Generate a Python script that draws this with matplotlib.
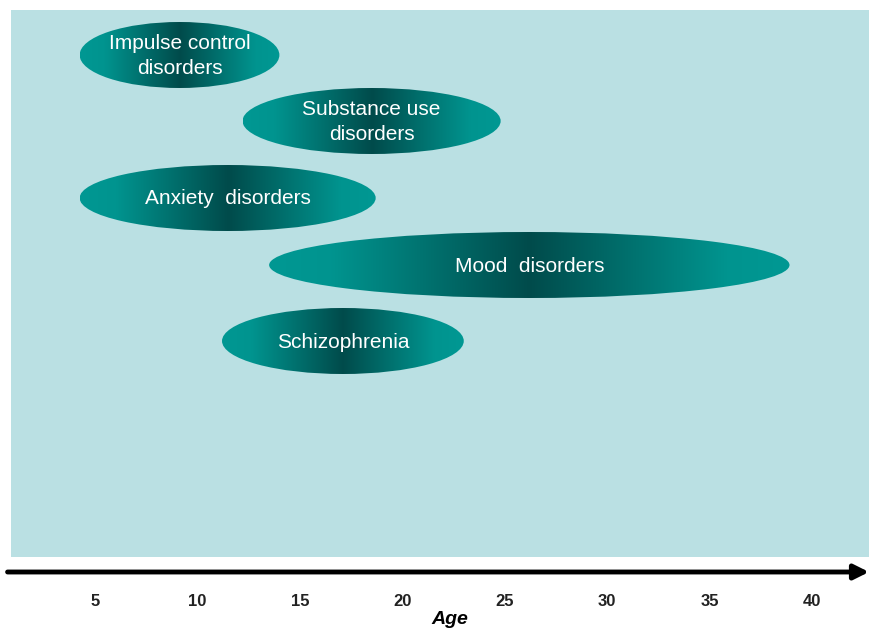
import numpy as np
import matplotlib
matplotlib.use("Agg")
import matplotlib.pyplot as plt
from matplotlib.patches import Ellipse
from matplotlib.colors import LinearSegmentedColormap

plt.rcParams['font.family'] = ['Liberation Sans', 'DejaVu Sans']

# age-of-onset spans for each disorder group
disorders = ["Impulse control\ndisorders", "Substance use\ndisorders",
             "Anxiety  disorders", "Mood  disorders", "Schizophrenia"]
onset_start = [4.25, 12.2, 4.25, 13.5, 11.2]
onset_end = [14.0, 24.8, 18.7, 38.9, 23.0]
age_ticks = [5, 10, 15, 20, 25, 30, 35, 40]

# vertical layout of the bands (panel units, top = 0)
rows = [45, 111, 188, 255, 331]
band_h = 66

W, H = 869, 633
fig = plt.figure(figsize=(W / 100, H / 100), dpi=100)
ax = fig.add_axes([11 / W, (H - 557) / H, 858 / W, 547 / H])
ax.set_facecolor("#bae0e3")
for s in ax.spines.values():
    s.set_visible(False)
ax.set_yticks([])

shade = LinearSegmentedColormap.from_list(
    "teal", [(0, "#009893"), (0.12, "#00948f"), (0.3, "#00726f"),
             (0.5, "#004b4b"), (0.7, "#00726f"), (0.88, "#00948f"),
             (1, "#009893")])
grad = np.linspace(0, 1, 256).reshape(1, -1)

for name, a0, a1, yc in zip(disorders, onset_start, onset_end, rows):
    xc = (a0 + a1) / 2
    e = Ellipse((xc, yc), a1 - a0, band_h, facecolor="none", edgecolor="none")
    ax.add_patch(e)
    im = ax.imshow(grad, cmap=shade, aspect="auto",
                   extent=(a0, a1, yc + band_h / 2, yc - band_h / 2),
                   interpolation="bilinear", zorder=2)
    im.set_clip_path(e)
    ax.text(xc, yc + 1, name, color="white", fontsize=15, ha="center",
            va="center", linespacing=1.42, zorder=3)

ax.set_xlim(0.9, 42.78)
ax.set_ylim(547, 0)

ax.set_xticks(age_ticks)
ax.set_xticklabels([str(t) for t in age_ticks], fontsize=12, fontweight="bold",
                   color="#222222")
ax.tick_params(axis="x", length=0, pad=27)
ax.set_xlabel("Age", fontsize=14, fontweight="bold", style="italic")
ax.xaxis.set_label_coords((450 - 11) / 858, -(611 - 557) / 547)

# time arrow under the panel
ax.annotate("", xy=(1.0, -15 / 547), xytext=(-0.004, -15 / 547),
            xycoords="axes fraction",
            arrowprops=dict(arrowstyle="-|>", lw=3.5, color="black",
                            mutation_scale=22, shrinkA=0, shrinkB=0))

fig.savefig("out.png", dpi=100)
